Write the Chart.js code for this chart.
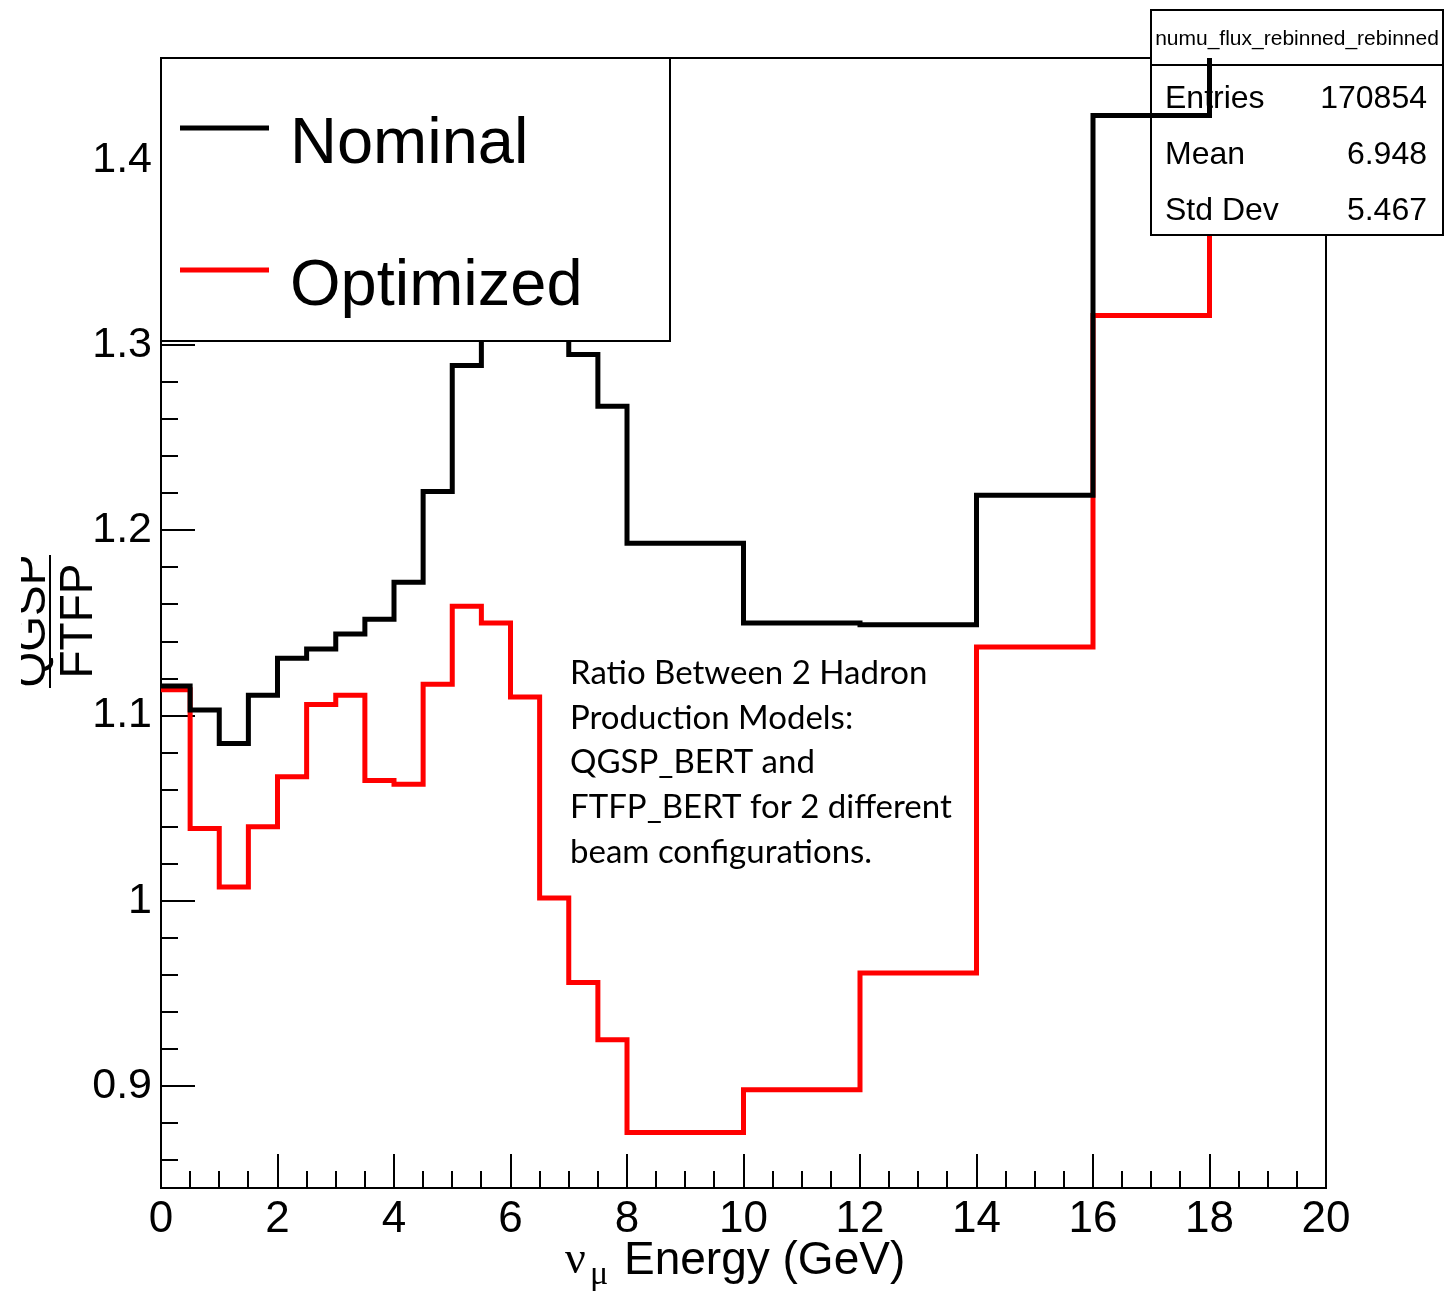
<!DOCTYPE html>
<html>
<head>
<meta charset="utf-8">
<script src="https://cdn.jsdelivr.net/npm/chart.js@4.4.1/dist/chart.umd.min.js"></script>
<style>
  html, body { margin: 0; padding: 0; background: #fff; }
  #wrap { width: 1444px; height: 1291px; position: relative; }
</style>
</head>
<body>
<div id="wrap"><canvas id="ratioChart" width="1444" height="1291"></canvas></div>
<script>
/* ---- data ---- */
// bin edges in GeV (variable width histogram)
const binEdges = [0, 0.5, 1, 1.5, 2, 2.5, 3, 3.5, 4, 4.5, 5, 5.5, 6, 6.5, 7, 7.5, 8, 10, 12, 14, 16, 18, 20];
// QGSP/FTFP ratio, nominal beam
const nominal = [1.116, 1.103, 1.085, 1.111, 1.131, 1.136, 1.144, 1.152, 1.172, 1.221, 1.289,
                 1.330, 1.340, 1.320, 1.295, 1.267, 1.193, 1.150, 1.149, 1.219, 1.424, 1.500];
// QGSP/FTFP ratio, optimized beam
const optimized = [1.114, 1.039, 1.0075, 1.040, 1.067, 1.106, 1.111, 1.065, 1.063, 1.117, 1.159,
                   1.150, 1.110, 1.0015, 0.956, 0.925, 0.875, 0.898, 0.961, 1.137, 1.316, 1.400];
const xTicks = [0, 2, 4, 6, 8, 10, 12, 14, 16, 18, 20];
const yTicks = [0.9, 1.0, 1.1, 1.2, 1.3, 1.4];
const statRows = [["Entries", "170854"], ["Mean", "6.948"], ["Std Dev", "5.467"]];
const noteLines = ["Ratio Between 2 Hadron", "Production Models:", "QGSP_BERT and",
                   "FTFP_BERT for 2 different", "beam configurations."];

// histogram -> step points (last edge repeats last value)
function toSteps(vals) {
    return binEdges.map((e, i) => ({ x: e, y: vals[Math.min(i, vals.length - 1)] }));
}

const SANS = '"Liberation Sans", Arial, Helvetica, sans-serif';
const SERIF = '"Liberation Serif", "Times New Roman", serif';

/* ---- frame, ticks, legend, stat box, labels ---- */
const rootStyle = {
    id: 'rootStyle',
    beforeDatasetsDraw(chart) {
        const ctx = chart.ctx, a = chart.chartArea;
        const xs = chart.scales.x, ys = chart.scales.y;
        ctx.save();
        ctx.strokeStyle = '#000';
        ctx.lineWidth = 2;
        ctx.strokeRect(a.left, a.top, a.right - a.left, a.bottom - a.top);
        // x ticks, minor every 0.5
        ctx.beginPath();
        for (let v = 0.5; v < 20; v += 0.5) {
            const px = Math.round(xs.getPixelForValue(v));
            const len = (v % 2 === 0) ? 34 : 17;
            ctx.moveTo(px, a.bottom);
            ctx.lineTo(px, a.bottom - len);
        }
        // y ticks, minor every 0.02
        for (let k = 43; k <= 72; k++) {
            const v = k * 0.02;
            const py = Math.round(ys.getPixelForValue(v));
            const len = (k % 5 === 0) ? 34 : 17;
            ctx.moveTo(a.left, py);
            ctx.lineTo(a.left + len, py);
        }
        ctx.stroke();
        ctx.restore();
    },
    afterDatasetDraw(chart, args) {
        // stat box sits above the red curve but under the black one
        if (args.index !== 1) return;
        const ctx = chart.ctx;
        ctx.save();
        ctx.fillStyle = '#fff';
        ctx.fillRect(1151, 10, 292, 225);
        ctx.strokeStyle = '#000';
        ctx.lineWidth = 2;
        ctx.strokeRect(1151, 10, 292, 225);
        ctx.beginPath();
        ctx.moveTo(1151, 65);
        ctx.lineTo(1443, 65);
        ctx.stroke();
        ctx.fillStyle = '#000';
        ctx.font = '21px ' + SANS;
        ctx.textAlign = 'center';
        ctx.textBaseline = 'alphabetic';
        ctx.fillText('numu_flux_rebinned_rebinned', 1297, 45);
        ctx.font = '32px ' + SANS;
        statRows.forEach((r, i) => {
            const by = 108 + i * 56;
            ctx.textAlign = 'left';
            ctx.fillText(r[0], 1165, by);
            ctx.textAlign = 'right';
            ctx.fillText(r[1], 1427, by);
        });
        ctx.restore();
    },
    afterDatasetsDraw(chart) {
        const ctx = chart.ctx;
        ctx.save();
        // legend
        ctx.fillStyle = '#fff';
        ctx.fillRect(161, 58, 509, 283);
        ctx.strokeStyle = '#000';
        ctx.lineWidth = 2;
        ctx.strokeRect(161, 58, 509, 283);
        chart.data.datasets.forEach((ds, i) => {
            const ly = 128 + i * 142;
            ctx.strokeStyle = ds.borderColor;
            ctx.lineWidth = 5;
            ctx.beginPath();
            ctx.moveTo(180, ly);
            ctx.lineTo(269, ly);
            ctx.stroke();
            ctx.fillStyle = '#000';
            ctx.font = '65px ' + SANS;
            ctx.textAlign = 'left';
            ctx.fillText(ds.label, 290, ly + 35);
        });
        ctx.restore();
    },
    afterDraw(chart) {
        const ctx = chart.ctx;
        ctx.save();
        ctx.fillStyle = '#000';
        // x title
        ctx.textAlign = 'left';
        ctx.textBaseline = 'alphabetic';
        ctx.font = '46px ' + SERIF;
        ctx.fillText('\u03bd', 565, 1273);
        ctx.font = '34px ' + SERIF;
        ctx.fillText('\u03bc', 590, 1284);
        ctx.font = '46px ' + SANS;
        ctx.fillText('Energy (GeV)', 624, 1274);
        // y title as a fraction, clipped at the left like the original
        ctx.beginPath();
        ctx.rect(21, 0, 200, 1291);
        ctx.clip();
        ctx.font = '46px ' + SANS;
        ctx.textAlign = 'center';
        ctx.save();
        ctx.translate(45, 621);
        ctx.rotate(-Math.PI / 2);
        ctx.fillText('QGSP', 0, 0);
        ctx.restore();
        ctx.save();
        ctx.translate(92, 621);
        ctx.rotate(-Math.PI / 2);
        ctx.fillText('FTFP', 0, 0);
        ctx.restore();
        ctx.fillRect(49, 555, 2, 133);
        ctx.restore();
        // note
        ctx.save();
        ctx.fillStyle = '#000';
        ctx.font = '33px Lato, "Open Sans", sans-serif';
        ctx.textAlign = 'left';
        noteLines.forEach((t, i) => ctx.fillText(t, 570, 684 + i * 44.7));
        ctx.restore();
    }
};

const ctx = document.getElementById('ratioChart').getContext('2d');
const ratioChart = new Chart(ctx, {
    type: 'line',
    data: {
        datasets: [
            {
                label: 'Nominal',
                data: toSteps(nominal),
                borderColor: '#000000',
                borderWidth: 5,
                stepped: 'before',
                pointRadius: 0,
                fill: false
            },
            {
                label: 'Optimized',
                data: toSteps(optimized),
                borderColor: '#ff0000',
                borderWidth: 5,
                stepped: 'before',
                pointRadius: 0,
                fill: false
            }
        ]
    },
    options: {
        responsive: false,
        animation: false,
        events: [],
        layout: { padding: { top: 58, right: 118, left: 0, bottom: 0 } },
        plugins: { legend: { display: false }, tooltip: { enabled: false } },
        scales: {
            x: {
                type: 'linear',
                min: 0,
                max: 20,
                afterBuildTicks(scale) { scale.ticks = xTicks.map(v => ({ value: v })); },
                afterFit(scale) { scale.height = 103; },
                grid: { display: false },
                border: { display: false },
                ticks: {
                    color: '#000',
                    font: { family: SANS, size: 44 },
                    padding: -3,
                    maxRotation: 0,
                    callback: v => String(v)
                }
            },
            y: {
                type: 'linear',
                min: 0.845,
                max: 1.455,
                afterBuildTicks(scale) { scale.ticks = yTicks.map(v => ({ value: v })); },
                afterFit(scale) { scale.width = 161; },
                grid: { display: false },
                border: { display: false },
                ticks: {
                    color: '#000',
                    font: { family: SANS, size: 43 },
                    padding: 1,
                    callback: v => String(Math.round(v * 10) / 10)
                }
            }
        }
    },
    plugins: [rootStyle]
});
</script>
</body>
</html>
